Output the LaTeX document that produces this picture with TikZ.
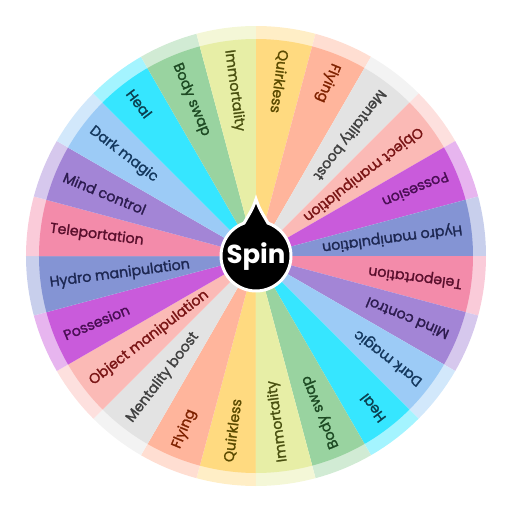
\documentclass[tikz,border=0pt]{standalone}
\usepackage{fontspec}
\setmainfont{Poppins}
\newfontfamily\lblfont{Poppins}[FakeBold=1.6]
\definecolor{s0}{HTML}{FFDA80}
\definecolor{s1}{HTML}{FFB59C}
\definecolor{s2}{HTML}{E3E3E3}
\definecolor{s3}{HTML}{FBBAB6}
\definecolor{s4}{HTML}{C95BDB}
\definecolor{s5}{HTML}{8494D4}
\definecolor{s6}{HTML}{F38BAA}
\definecolor{s7}{HTML}{A385D6}
\definecolor{s8}{HTML}{9CCBF6}
\definecolor{s9}{HTML}{36E6FF}
\definecolor{s10}{HTML}{99D3A0}
\definecolor{s11}{HTML}{E7EEA6}
\definecolor{t0}{HTML}{5B4A00}
\definecolor{t1}{HTML}{7F2200}
\definecolor{t2}{HTML}{404040}
\definecolor{t3}{HTML}{7A1515}
\definecolor{t4}{HTML}{4A0E55}
\definecolor{t5}{HTML}{1D2752}
\definecolor{t6}{HTML}{5A0F2D}
\definecolor{t7}{HTML}{2D1C50}
\definecolor{t8}{HTML}{14385E}
\definecolor{t9}{HTML}{0B4050}
\definecolor{t10}{HTML}{1D4A23}
\definecolor{t11}{HTML}{4A5010}
\tikzset{lbl/.style={inner sep=0pt, font=\lblfont\fontsize{14.2}{16}\selectfont, anchor=west}}
\begin{document}
\begin{tikzpicture}[x=1pt,y=1pt]
\useasboundingbox (-256,-256) rectangle (256,256);
\foreach \k/\lab in {0/Quirkless,1/Flying,2/Mentality boost,3/Object manipulation,4/Possesion,5/Hydro manipulation,6/Teleportation,7/Mind control,8/Dark magic,9/Heal,10/Body swap,11/Immortality} {
  \foreach \h in {0,1} {
    \pgfmathsetmacro\a{90-15*\k-180*\h}
    \pgfmathsetmacro\b{\a-15}
    \pgfmathsetmacro\m{\a-7.5}
    \pgfmathsetmacro\r{\m+180}
    \fill[s\k!45!white] (0,0) -- (\a:230) arc[start angle=\a, end angle=\b, radius=230] -- cycle;
    \fill[s\k] (0,0) -- (\a:217) arc[start angle=\a, end angle=\b, radius=217] -- cycle;
    \node[lbl, text=t\k, rotate=\r] (lab\k-\h) at (\m:208) {\lab};
  }
}
\draw[white, line width=3, fill=black] (0,57) .. controls (3,47) and (8,40) .. (70:35) arc[start angle=70, end angle=-250, radius=35] .. controls (-8,40) and (-3,47) .. (0,57) -- cycle;
\node[text=white, font=\bfseries\fontsize{26}{30}\selectfont] (spin) at (0,-1) {Spin};
\end{tikzpicture}
\end{document}
